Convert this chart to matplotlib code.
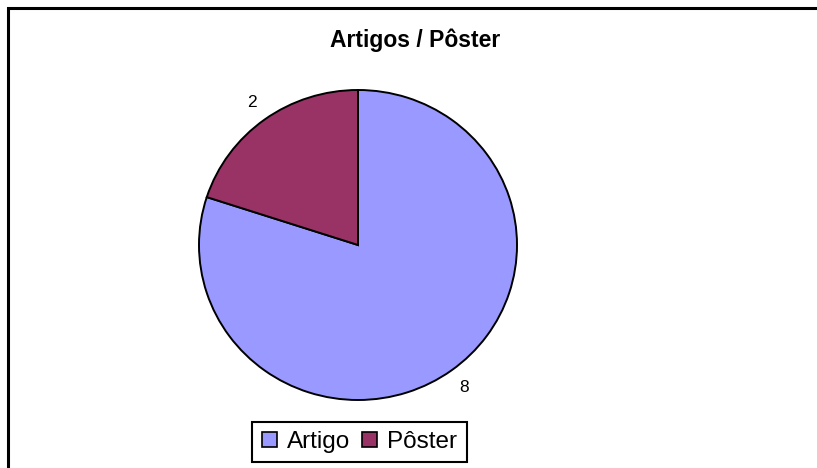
import matplotlib
matplotlib.use("Agg")
import matplotlib.pyplot as plt
from matplotlib.patches import Patch
from matplotlib.lines import Line2D

categories = ["Artigo", "Pôster"]
values = [8, 2]
colors = ["#9999FF", "#993366"]
title = "Artigos / Pôster"

plt.rcParams['font.family'] = ['Liberation Sans', 'DejaVu Sans']

W, H = 817, 468
fig = plt.figure(figsize=(W / 100, H / 100), dpi=100)
fig.patch.set_facecolor("white")

# pie axes: x 199-517, y 90-400 (pixels)
ax = fig.add_axes([199 / W, 1 - 400 / H, 318 / W, 310 / H])
wedges, texts = ax.pie(values, colors=colors, startangle=90, counterclock=False,
                       labels=[str(v) for v in values], labeldistance=1.14,
                       wedgeprops=dict(edgecolor="black", linewidth=1.4),
                       textprops=dict(fontsize=12.5, color="black"))
ax.set_aspect("auto")
ax.set_xlim(-1, 1)
ax.set_ylim(-1, 1)
for t in texts:
    t.set_clip_on(False)
    t.set_ha("center")
    t.set_va("center")

fig.text(415 / W, 1 - 40 / H, title, ha="center", va="center",
         fontsize=16.5, fontweight="bold")

handles = [Patch(facecolor=c, edgecolor="black", linewidth=1.2) for c in colors]
leg = fig.legend(handles, categories, loc="center",
                 bbox_to_anchor=(359.5 / W, 1 - 442 / H), ncol=2,
                 fontsize=17.5, frameon=True, fancybox=False, framealpha=1,
                 edgecolor="black", handlelength=0.62, handleheight=0.62,
                 handletextpad=0.42, columnspacing=0.5, borderpad=0.38,
                 borderaxespad=0)
leg.get_frame().set_linewidth(1.5)

# chart border (left and top visible)
fig.add_artist(Line2D([7.5 / W, 7.5 / W, 1], [0, 1 - 8 / H, 1 - 8 / H],
                      transform=fig.transFigure, color="black", linewidth=2.2,
                      solid_joinstyle="miter"))

fig.savefig("out.png", dpi=100)
